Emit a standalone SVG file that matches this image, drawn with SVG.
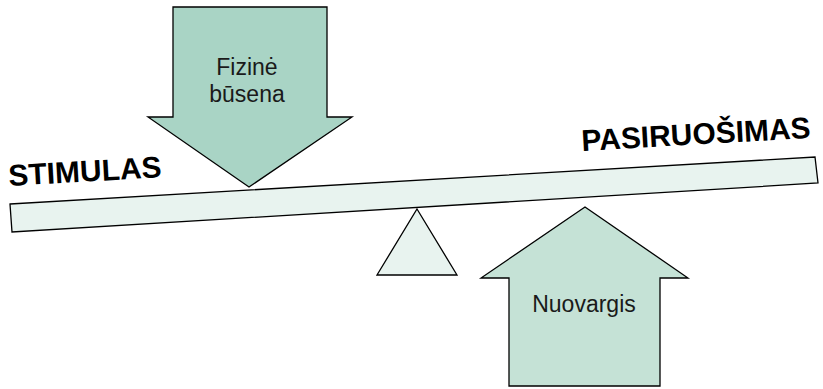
<svg xmlns="http://www.w3.org/2000/svg" width="823" height="389" viewBox="0 0 823 389">
  <style>
    .shape { stroke: #000; stroke-width: 1.3; stroke-linejoin: miter; }
    .light { fill: #e8f3ef; }
    .label { font-family: "Liberation Sans", Arial, sans-serif; font-size: 23px; fill: #1a1a1a; text-anchor: middle; }
    .title { font-family: "Liberation Sans", Arial, sans-serif; font-size: 30px; font-weight: bold; fill: #000; }
  </style>
  <rect width="823" height="389" fill="#fff"/>

  <!-- lever beam and fulcrum -->
  <g id="beam">
    <polygon class="shape light" points="10,204 815,157 818,183 12,232"/>
  </g>
  <g id="fulcrum">
    <polygon class="shape light" points="417,209 457,275 377,275"/>
  </g>

  <!-- pressure from above -->
  <g id="fizine-busena">
    <polygon class="shape" fill="#a9d4c5" points="173,7 327,7 327,117 352,117 249,187 148,117 173,117"/>
    <text class="label" x="247" y="75">Fizinė</text>
    <text class="label" x="247" y="102">būsena</text>
  </g>

  <!-- push from below -->
  <g id="nuovargis">
    <polygon class="shape" fill="#c5e2d6" points="585,207 688,278 660,278 660,386 509,386 509,278 481,278"/>
    <text class="label" x="584" y="312">Nuovargis</text>
  </g>

  <!-- end labels, tilted with the beam -->
  <g id="stimulas">
    <text class="title" transform="translate(9,186) rotate(-3.3)">STIMULAS</text>
  </g>
  <g id="pasiruosimas">
    <text class="title" transform="translate(582,151) rotate(-3.3)">PASIRUOŠIMAS</text>
  </g>
</svg>
